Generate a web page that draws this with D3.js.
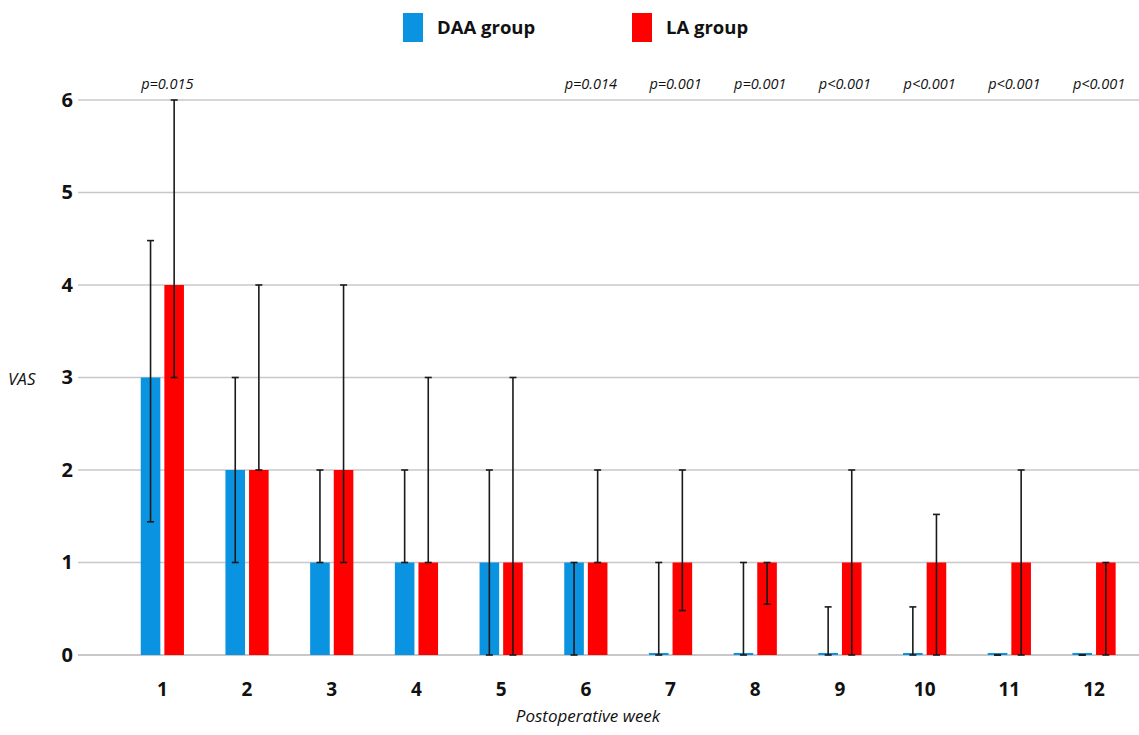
<!DOCTYPE html>
<html><head><meta charset="utf-8">
<script src="https://cdn.jsdelivr.net/npm/d3@7"></script>
<style>body{margin:0;background:#fff}svg{display:block}text{font-family:"Open Sans",sans-serif}</style>
</head><body><svg id="c" width="1139" height="735"></svg>
<script>
const weeks = ["1","2","3","4","5","6","7","8","9","10","11","12"];
const groups = ["DAA group","LA group"];
const daaValues = [3,2,1,1,1,1,0,0,0,0,0,0];
const daaLower  = [1.44,1,1,1,0,0,0,0,0,0,0,0];
const daaUpper  = [4.48,3,2,2,2,1,1,1,0.52,0.52,0,0];
const laValues  = [4,2,2,1,1,1,1,1,1,1,1,1];
const laLower   = [3,2,1,1,0,1,0.48,0.55,0,0,0,0];
const laUpper   = [6,4,4,3,3,2,2,1,2,1.52,2,1];
const pLabels   = ["p=0.015","","","","","p=0.014","p=0.001","p=0.001","p<0.001","p<0.001","p<0.001","p<0.001"];
const yTicks = [0,1,2,3,4,5,6];
const colors = ["#0a93e0","#ff0000"];

const svg = d3.select("#c");
const y = d3.scaleLinear().domain([0,6]).range([655,100]);
const x0 = d3.scaleBand().domain(weeks).range([120,1136.4]).paddingInner(0.49).paddingOuter(0.245);
const x1 = d3.scaleBand().domain(groups).range([0,x0.bandwidth()]).paddingInner(0.17);

// gridlines
svg.append("g").selectAll("line").data(yTicks).join("line")
  .attr("x1",78).attr("x2",1139)
  .attr("y1",d=>y(d)).attr("y2",d=>y(d))
  .attr("stroke","#c8c8c8").attr("stroke-width",d=>d===0?2:1.5);

// y axis labels
const yAxis = d3.axisLeft(y).tickValues(yTicks).tickSize(0).tickPadding(0).tickFormat(d3.format("d"));
const yg = svg.append("g").attr("transform","translate(73,0)").call(yAxis);
yg.select(".domain").remove();
yg.selectAll("text").attr("font-size",20).attr("font-weight","bold").attr("fill","#111").attr("font-family","Open Sans");

// x axis labels
const xAxis = d3.axisBottom(x0).tickSize(0).tickPadding(0);
const xg = svg.append("g").attr("transform","translate(0,682)").call(xAxis);
xg.select(".domain").remove();
xg.selectAll("text").attr("font-size",19).attr("font-weight","bold").attr("fill","#111").attr("font-family","Open Sans");

const series = [
  {name:groups[0], vals:daaValues, lo:daaLower, hi:daaUpper, color:colors[0]},
  {name:groups[1], vals:laValues, lo:laLower, hi:laUpper, color:colors[1]}
];

series.forEach(s=>{
  const g = svg.append("g");
  const data = weeks.map((w,i)=>({w, v:s.vals[i], lo:s.lo[i], hi:s.hi[i]}));
  g.selectAll("rect").data(data).join("rect")
    .attr("x",d=>x0(d.w)+x1(s.name))
    .attr("width",x1.bandwidth())
    .attr("y",d=>Math.min(y(d.v), y(0)-2))
    .attr("height",d=>Math.max(y(0)-y(d.v),2))
    .attr("fill",s.color);
  const cx = d=>x0(d.w)+x1(s.name)+x1.bandwidth()/2;
  g.selectAll("line.v").data(data).join("line").attr("class","v")
    .attr("x1",cx).attr("x2",cx).attr("y1",d=>y(d.lo)).attr("y2",d=>y(d.hi))
    .attr("stroke","#1a1a1a").attr("stroke-width",1.6);
  ["lo","hi"].forEach(k=>{
    g.selectAll("line."+k).data(data).join("line").attr("class",k)
      .attr("x1",d=>cx(d)-3.5).attr("x2",d=>cx(d)+3.5)
      .attr("y1",d=>y(d[k])).attr("y2",d=>y(d[k]))
      .attr("stroke","#1a1a1a").attr("stroke-width",1.6);
  });
});

// p-values
svg.append("g").selectAll("text").data(weeks.map((w,i)=>({w,p:pLabels[i]}))).join("text")
  .attr("x",d=>x0(d.w)+x0.bandwidth()/2+5).attr("y",89)
  .attr("text-anchor","middle").attr("font-size",14.5).attr("font-style","italic")
  .attr("fill","#111").text(d=>d.p);

// axis titles
svg.append("text").attr("x",8).attr("y",385).attr("font-size",17).attr("font-style","italic").attr("fill","#111").text("VAS");
svg.append("text").attr("x",588).attr("y",722).attr("text-anchor","middle").attr("font-size",17).attr("font-style","italic").attr("fill","#111").text("Postoperative week");

// legend
const legX = [403,632];
const lg = svg.append("g");
groups.forEach((gname,i)=>{
  lg.append("rect").attr("x",legX[i]).attr("y",13).attr("width",20).attr("height",29).attr("fill",colors[i]);
  lg.append("text").attr("x",legX[i]+34).attr("y",34).attr("font-size",18.5).attr("font-weight","bold").attr("fill","#111").text(gname);
});
</script></body></html>
